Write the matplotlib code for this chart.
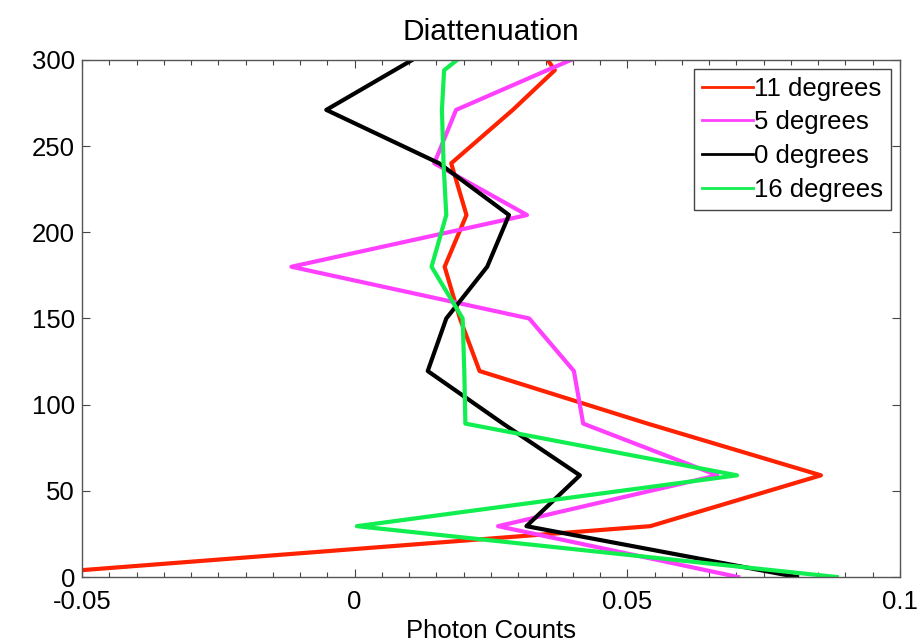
#!/usr/bin/env python3
"""Diattenuation depth profiles for several incidence angles."""

import matplotlib

matplotlib.use("Agg")

import matplotlib.pyplot as plt
from matplotlib.ticker import MultipleLocator

plt.rcParams["font.family"] = ["Liberation Sans", "DejaVu Sans"]

# depth samples (a few beyond 300 are clipped by the axis limits)
depth = [0, 29.5, 59, 89, 119.5, 150, 180, 210, 240, 271, 294, 310]

deg11 = [-0.0663, 0.0542, 0.0855, 0.0537, 0.0229, 0.0193, 0.0165, 0.0205, 0.0177, 0.0290, 0.0367, 0.0332]
deg5 = [0.0703, 0.0263, 0.0665, 0.0419, 0.0402, 0.0320, -0.0116, 0.0316, 0.0146, 0.0186, 0.0353, 0.0470]
deg0 = [0.0811, 0.0315, 0.0413, 0.0272, 0.0134, 0.0168, 0.0243, 0.0283, 0.0155, -0.0052, 0.0073, 0.0160]
deg16 = [0.0884, 0.0004, 0.0701, 0.0203, 0.0201, 0.0198, 0.0141, 0.0168, 0.0163, 0.0160, 0.0164, 0.0228]

SERIES = [
    ("11 degrees", deg11, "#ff2200"),
    ("5 degrees", deg5, "#ff40ff"),
    ("0 degrees", deg0, "#000000"),
    ("16 degrees", deg16, "#10ee50"),
]


def main() -> None:
    fig = plt.figure(figsize=(9.17, 6.44), dpi=100)
    ax = fig.add_axes([0.0894, 0.104, 0.8921, 0.803])

    for label, values, color in SERIES:
        ax.plot(values, depth, color=color, linewidth=3.0, label=label)

    ax.set_xlim(-0.05, 0.1)
    ax.set_ylim(0, 300)
    ax.set_xticks([-0.05, 0, 0.05, 0.1])
    ax.set_xticklabels(["-0.05", "0", "0.05", "0.1"])
    ax.xaxis.set_minor_locator(MultipleLocator(0.005))
    ax.set_yticks([0, 50, 100, 150, 200, 250, 300])

    ax.tick_params(which="both", direction="in", top=True, right=True,
                   labelsize=18.5, color="#444444")
    ax.tick_params(which="major", length=6, width=0.8)
    ax.tick_params(axis="x", which="major", pad=9)
    ax.tick_params(axis="y", which="major", pad=5)
    ax.tick_params(which="minor", length=3.5, width=0.8)
    for spine in ax.spines.values():
        spine.set_color("#555555")
        spine.set_linewidth(1.0)

    ax.set_title("Diattenuation", fontsize=21.5, pad=14)
    ax.set_xlabel("Photon Counts", fontsize=18.5, labelpad=4)

    leg = ax.legend(loc="upper right", fontsize=18.5, handlelength=2.0,
                    handletextpad=0.05, labelspacing=0.38, borderpad=0.3,
                    borderaxespad=0.35, fancybox=False, framealpha=1.0,
                    edgecolor="#444444")
    leg.get_frame().set_linewidth(1.0)
    for line in leg.get_lines():
        line.set_linewidth(2.0)

    fig.savefig("out.png", dpi=100)
    plt.close(fig)


if __name__ == "__main__":
    main()
